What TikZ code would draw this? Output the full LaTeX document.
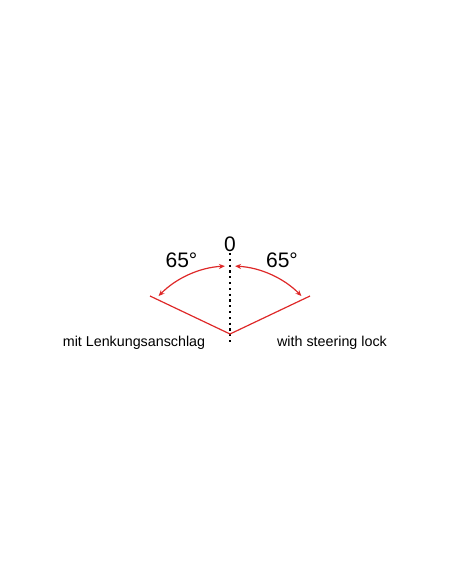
\documentclass[tikz,border=0pt]{standalone}
\usepackage{fontspec}
\setmainfont{Liberation Sans}
\usetikzlibrary{arrows.meta}
\definecolor{lockred}{RGB}{222,40,40}
\begin{document}
\begin{tikzpicture}[x=1pt,y=-1pt,
  redline/.style={draw=lockred,line width=1.2pt},
  redarc/.style={draw=lockred,line width=1.2pt,{Stealth[length=6pt,width=5pt]}-{Stealth[length=6pt,width=5pt]}},
  axisline/.style={draw=black,line width=1.1pt,dash pattern=on 2.2pt off 3.6pt},
  angtext/.style={font=\fontsize{21}{24}\selectfont,inner sep=0pt},
  labtext/.style={font=\fontsize{14.3}{16}\selectfont,inner sep=0pt,anchor=base}]
\useasboundingbox (0,0) rectangle (452,584);
\coordinate (V) at (230,334);
\coordinate (L) at (150,296);
\coordinate (R) at (310,296);
\coordinate (T) at (230,253);
\coordinate (B) at (230,345);
\coordinate (C) at (230,366);
\draw[axisline] (T) -- (B);
\draw[redline] (L) -- (V) -- (R);
\draw[redarc] ([shift={(-135.6:100)}]C) arc[start angle=-135.6,end angle=-92.9,radius=100];
\draw[redarc] ([shift={(-44.4:100)}]C) arc[start angle=-44.4,end angle=-87.1,radius=100];
\node[angtext] (zero) at (230,244) {0};
\node[angtext] (al) at (181.5,260.5) {65°};
\node[angtext] (ar) at (282,260.5) {65°};
\node[labtext] (ml) at (134,346) {mit Lenkungsanschlag};
\node[labtext] (mr) at (332,346) {with steering lock};
\end{tikzpicture}
\end{document}
